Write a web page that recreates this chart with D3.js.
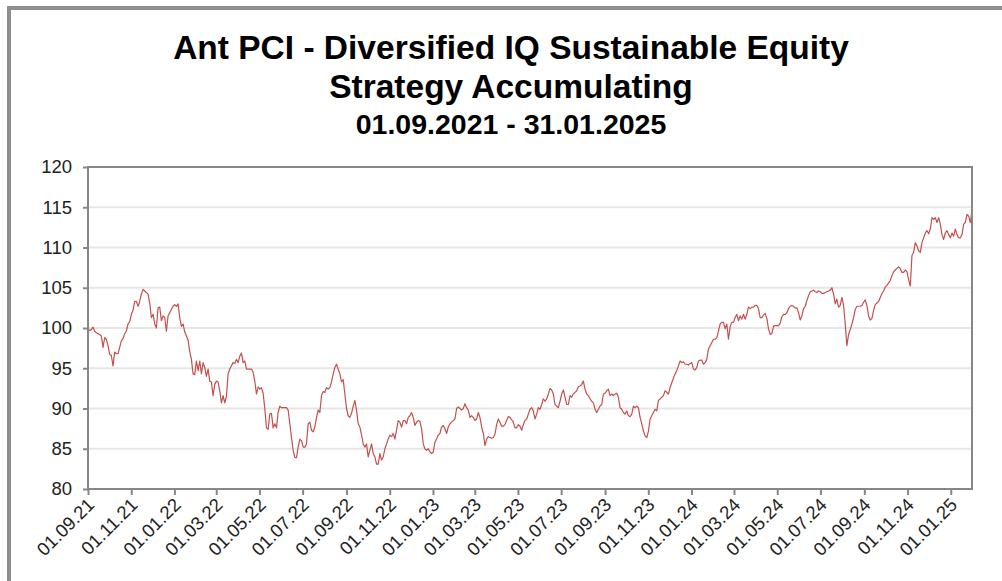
<!DOCTYPE html>
<html>
<head>
<meta charset="utf-8">
<script src="https://cdn.jsdelivr.net/npm/d3@7"></script>
<style>
  html, body { margin: 0; padding: 0; background: #fff; }
  svg { display: block; font-family: "Liberation Sans", Arial, sans-serif; }
</style>
</head>
<body>
<svg id="chart" width="1002" height="581"></svg>
<script>
// title lines
const titleLines = ["Ant PCI - Diversified IQ Sustainable Equity", "Strategy Accumulating"];
const periodLabel = "01.09.2021 - 31.01.2025";

// period shown, samples are evenly spread over it
const startDate = "01.09.2021";
const endDate = "31.01.2025";

// index values
// 01.09.21 - early 07.22
const values1 = [99.8, 99.7, 99.8, 100.1, 99.6, 99.4, 99.3, 99.2, 99.0, 97.6,
    98.8, 98.6, 97.8, 96.7, 96.6, 95.3, 97.0, 96.8, 96.8, 97.6,
    98.4, 98.7, 99.3, 99.6, 100.5, 100.8, 101.7, 102.2, 103.3, 103.3,
    102.7, 103.3, 104.2, 104.8, 104.6, 104.4, 104.2, 103.1, 101.3, 101.7,
    100.5, 100.0, 102.5, 102.6, 100.9, 101.5, 101.3, 99.6, 101.5, 101.9,
    102.3, 102.7, 102.9, 102.7, 103.0, 101.3, 100.2, 100.5, 99.5, 99.0,
    98.5, 97.1, 96.1, 94.3, 94.2, 95.9, 94.7, 95.9, 94.3, 95.7,
    95.1, 94.0, 94.9, 93.4, 93.3, 91.6, 93.0, 93.4, 93.3, 92.2,
    90.7, 91.6, 90.7, 91.5, 94.3, 94.9, 95.3, 95.7, 95.6, 96.1,
    95.7, 96.5, 96.9, 95.7, 95.9, 94.9, 94.9, 94.9, 94.9, 94.5,
    93.4, 91.8, 92.7, 92.4, 92.6, 91.9, 90.0, 87.6, 87.4, 89.3,
    89.4, 87.6, 88.1, 87.6, 89.5, 90.3, 90.1, 90.1, 90.1, 90.1,
    89.8, 88.1, 86.4, 84.8, 83.9, 83.9, 85.2, 86.2, 86.0, 85.2,
    85.2, 85.6, 88.1];
// 07.22 - 05.23
const values2 = [88.3, 87.3, 87.1, 87.7, 88.9, 89.8, 89.5, 91.6, 92.1, 92.0,
    92.6, 92.4, 92.6, 93.3, 94.3, 95.1, 95.5, 94.9, 94.3, 93.3,
    93.6, 91.8, 90.0, 89.1, 88.9, 89.4, 90.3, 91.0, 89.8, 88.1,
    87.7, 86.7, 85.6, 85.2, 85.6, 84.0, 84.8, 85.6, 84.4, 84.0,
    83.1, 83.1, 84.4, 83.6, 84.0, 85.0, 85.6, 86.2, 86.7, 86.5,
    86.9, 86.2, 87.3, 88.5, 88.3, 87.7, 88.5, 88.5, 88.1, 88.9,
    89.1, 89.5, 88.9, 87.9, 88.3, 88.5, 88.4, 87.5, 85.6, 85.0,
    84.8, 85.0, 84.6, 84.4, 84.6, 85.8, 86.2, 86.7, 86.9, 87.7,
    87.9, 87.5, 86.9, 87.7, 88.1, 88.3, 88.5, 88.7, 90.0, 90.2,
    90.0, 89.8, 90.0, 90.6, 90.1, 89.8, 88.9, 89.1, 88.9, 88.5,
    88.7, 89.5, 88.9, 87.7, 86.9, 85.4, 86.2, 86.5, 86.4, 86.3,
    86.4, 86.8, 88.0, 88.7, 88.3, 87.8, 87.8, 88.0, 88.5, 89.0,
    88.9, 88.6, 88.3, 87.6, 87.6, 88.0, 87.8, 87.3, 88.0];
// 05.23 - 03.24
const values3 = [88.5, 88.7, 89.3, 89.9, 90.1, 89.7, 88.7, 89.3, 90.1, 89.9,
    90.5, 91.2, 90.9, 91.2, 91.8, 92.5, 92.3, 91.8, 90.5, 90.3,
    90.1, 90.9, 91.8, 92.3, 91.4, 90.5, 90.5, 91.6, 91.4, 91.8,
    92.0, 92.2, 92.7, 92.8, 93.0, 93.4, 92.4, 91.8, 91.6, 91.2,
    90.9, 90.7, 89.9, 89.5, 89.9, 90.3, 90.5, 91.8, 91.9, 92.2,
    92.4, 91.6, 91.8, 91.6, 91.8, 91.9, 91.4, 90.1, 89.9, 89.5,
    89.3, 89.7, 89.1, 89.0, 89.3, 90.3, 90.1, 90.3, 90.1, 88.9,
    88.1, 87.2, 86.6, 86.4, 87.2, 88.7, 89.1, 89.5, 89.9, 89.7,
    91.0, 91.2, 91.4, 91.6, 92.2, 92.0, 91.8, 92.6, 93.2, 93.8,
    94.3, 94.7, 95.3, 95.9, 95.7, 95.8, 95.5, 95.5, 95.4, 95.6,
    95.7, 94.9, 94.8, 95.1, 95.9, 96.0, 96.0, 95.5, 95.7, 96.1,
    97.4, 97.8, 98.2, 98.6, 98.6, 98.8, 99.6, 100.5, 100.7, 100.7,
    99.9, 100.5, 98.6, 100.2, 100.7, 100.7, 101.3, 101.7, 100.9, 101.5,
    101.1, 101.7];
// 03.24 - 31.01.25
const values4 = [101.1, 101.7, 102.6, 102.4, 102.6, 102.6, 102.8, 102.8, 102.4, 101.3,
    101.3, 101.6, 101.8, 101.2, 99.9, 99.2, 99.3, 100.2, 100.3, 100.3,
    100.3, 100.6, 101.4, 101.7, 101.7, 101.9, 102.4, 102.7, 102.8, 102.7,
    102.5, 102.5, 101.9, 101.0, 101.5, 102.4, 102.7, 103.4, 104.0, 104.5,
    104.6, 104.7, 104.5, 104.4, 104.6, 104.5, 104.3, 104.3, 104.4, 104.5,
    104.6, 104.7, 105.0, 104.2, 103.0, 103.6, 102.6, 102.8, 103.8, 102.8,
    100.5, 97.8, 99.2, 99.8, 100.5, 101.3, 102.3, 102.7, 102.7, 102.7,
    102.8, 103.2, 103.5, 102.8, 101.5, 101.0, 101.2, 102.2, 102.9, 103.1,
    103.3, 103.8, 104.3, 104.6, 105.1, 105.3, 105.6, 105.9, 106.5, 107.0,
    107.2, 107.4, 107.6, 107.4, 106.9, 106.9, 107.2, 107.0, 106.0, 105.2,
    109.0, 109.4, 110.6, 110.2, 109.6, 109.4, 110.6, 111.2, 111.8, 112.1,
    111.7, 112.3, 113.7, 113.5, 113.7, 113.1, 113.7, 112.9, 111.6, 111.0,
    111.8, 112.1, 111.6, 111.2, 111.8, 111.4, 112.3, 111.6, 111.2, 111.2,
    111.6, 112.9, 113.1, 114.1, 113.9, 113.1, 114.6];

const xTickLabels = ["01.09.21", "01.11.21", "01.01.22", "01.03.22", "01.05.22", "01.07.22",
    "01.09.22", "01.11.22", "01.01.23", "01.03.23", "01.05.23", "01.07.23", "01.09.23",
    "01.11.23", "01.01.24", "01.03.24", "01.05.24", "01.07.24", "01.09.24", "01.11.24", "01.01.25"];
const yTicks = [80, 85, 90, 95, 100, 105, 110, 115, 120];

const svg = d3.select("#chart");
const plot = {left: 88, right: 972, top: 167, bottom: 489};
const axisColor = "#878787";

// outer frame (only top / left edges show)
svg.append("rect")
    .attr("x", 9).attr("y", 8)
    .attr("width", 1100).attr("height", 700)
    .attr("fill", "none")
    .attr("stroke", "#8e8e8e")
    .attr("stroke-width", 4);

// title
const titleG = svg.append("g").attr("text-anchor", "middle").attr("font-weight", "bold").attr("fill", "#000");
titleG.selectAll("text.title")
    .data(titleLines)
    .enter()
    .append("text")
    .attr("class", "title")
    .attr("x", 511)
    .attr("y", (d, i) => 59 + i * 39)
    .attr("font-size", 33.5)
    .text(d => d);
titleG.append("text")
    .attr("x", 511).attr("y", 134)
    .attr("font-size", 28.5)
    .text(periodLabel);

const parseFull = d3.timeParse("%d.%m.%Y");
const parseShort = d3.timeParse("%d.%m.%y");
const t0 = parseFull(startDate), t1 = parseFull(endDate);

const x = d3.scaleTime().domain([t0, t1]).range([plot.left, plot.right]);
const y = d3.scaleLinear().domain([80, 120]).range([plot.bottom, plot.top]);

const values = values1.concat(values2, values3, values4);
const n = values.length;
const data = values.map((v, i) => ({
    date: new Date(+t0 + (t1 - t0) * i / (n - 1)),
    value: v
}));

// grid lines
svg.append("g")
    .selectAll("line")
    .data(yTicks.filter(d => d > 80 && d < 120))
    .enter()
    .append("line")
    .attr("x1", plot.left).attr("x2", plot.right)
    .attr("y1", d => y(d)).attr("y2", d => y(d))
    .attr("stroke", "#e6e6e6")
    .attr("stroke-width", 2);

// series line
const line = d3.line()
    .x(d => x(d.date))
    .y(d => y(d.value));

svg.append("path")
    .datum(data)
    .attr("fill", "none")
    .attr("stroke", "#c4504d")
    .attr("stroke-width", 1.2)
    .attr("stroke-linejoin", "round")
    .attr("d", line);

// plot border
svg.append("rect")
    .attr("x", plot.left).attr("y", plot.top)
    .attr("width", plot.right - plot.left)
    .attr("height", plot.bottom - plot.top)
    .attr("fill", "none")
    .attr("stroke", axisColor)
    .attr("stroke-width", 2);

// y axis
const yAxis = svg.append("g")
    .attr("transform", `translate(${plot.left},0)`)
    .call(d3.axisLeft(y).tickValues(yTicks).tickSize(5).tickPadding(11));
yAxis.select(".domain").remove();
yAxis.selectAll(".tick line").attr("stroke", axisColor).attr("stroke-width", 2);
yAxis.selectAll(".tick text")
    .attr("font-family", "Liberation Sans, Arial, sans-serif")
    .attr("font-size", 18.5)
    .attr("fill", "#222");

// x axis
const xTicks = xTickLabels.map(s => parseShort(s));
const xAxis = svg.append("g")
    .attr("transform", `translate(0,${plot.bottom})`)
    .call(d3.axisBottom(x).tickValues(xTicks).tickSize(6).tickFormat((d, i) => xTickLabels[i]));
xAxis.select(".domain").remove();
xAxis.selectAll(".tick line").attr("stroke", axisColor).attr("stroke-width", 2);
xAxis.selectAll(".tick text")
    .attr("font-family", "Liberation Sans, Arial, sans-serif")
    .attr("font-size", 18.5)
    .attr("fill", "#222")
    .attr("text-anchor", "end")
    .attr("y", 0)
    .attr("dy", 0)
    .attr("transform", "translate(7,17) rotate(-45)");
</script>
</body>
</html>
